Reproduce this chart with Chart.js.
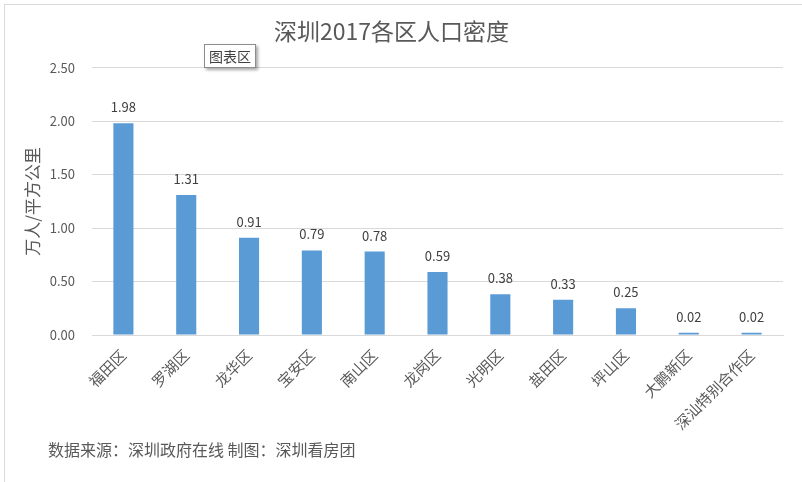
<!DOCTYPE html>
<html>
<head>
<meta charset="utf-8">
<script src="https://cdn.jsdelivr.net/npm/chart.js@4/dist/chart.umd.min.js"></script>
<style>
  html,body{margin:0;padding:0;background:#fff;}
  #wrap{position:relative;width:802px;height:482px;overflow:hidden;}
  #frame{position:absolute;left:4px;top:4px;right:0;bottom:0;border-left:1px solid #d9d9d9;border-top:1px solid #d9d9d9;}
  #tip{position:absolute;left:204px;top:44px;padding:1px 4px;border:1px solid #8c8c8c;background:#fff;
       font:14px "Noto Sans CJK SC",sans-serif;color:#404040;box-shadow:2px 2px 3px rgba(0,0,0,.35);}
  canvas{position:absolute;left:0;top:0;}
</style>
</head>
<body>
<div id="wrap">
  <div id="frame"></div>
  <canvas id="c" width="802" height="482"></canvas>
  <div id="tip">图表区</div>
</div>
<script>
// data
const districts = ['福田区','罗湖区','龙华区','宝安区','南山区','龙岗区','光明区','盐田区','坪山区','大鹏新区','深汕特别合作区'];
const density = [1.98, 1.31, 0.91, 0.79, 0.78, 0.59, 0.38, 0.33, 0.25, 0.02, 0.02];
const yTicks = [0, 0.5, 1, 1.5, 2, 2.5];

const font = '"Noto Sans CJK SC", "Noto Sans", sans-serif';
const textGray = '#595959';

// value labels above each bar
const valueLabels = {
  id:'valueLabels',
  afterDatasetsDraw(chart){
    const ctx = chart.ctx;
    const meta = chart.getDatasetMeta(0);
    ctx.save();
    ctx.font = '13px ' + font;
    ctx.fillStyle = '#404040';
    ctx.textAlign = 'center';
    ctx.textBaseline = 'middle';
    meta.data.forEach((bar,i)=>{
      ctx.fillText(density[i].toFixed(2), bar.x, bar.y - 16);
    });
    ctx.restore();
  }
};

// footer source line
const footer = {
  id:'footer',
  afterDraw(chart){
    const ctx = chart.ctx;
    ctx.save();
    ctx.font = '16px ' + font;
    ctx.fillStyle = textGray;
    ctx.textBaseline = 'middle';
    ctx.fillText('数据来源：深圳政府在线 制图：深圳看房团', 48, 450);
    ctx.restore();
  }
};

new Chart(document.getElementById('c').getContext('2d'), {
  type:'bar',
  data:{
    labels:districts,
    datasets:[{data:density, backgroundColor:'#5B9BD5', categoryPercentage:1, barPercentage:0.32}]
  },
  options:{
    responsive:false,
    animation:false,
    layout:{padding:{left:0,right:19,top:0,bottom:0}},
    plugins:{
      legend:{display:false},
      tooltip:{enabled:false},
      title:{display:true, text:'深圳2017各区人口密度', color:textGray,
             font:{family:font,size:23,weight:'normal'}, padding:{top:17,bottom:23}}
    },
    scales:{
      x:{
        grid:{display:false},
        border:{color:'#d9d9d9'},
        ticks:{color:textGray, font:{family:font,size:15}, minRotation:45, maxRotation:45, autoSkip:false},
        afterFit(s){ s.height = 147; }
      },
      y:{
        min:0, max:2.5,
        afterBuildTicks(s){ s.ticks = yTicks.map(v=>({value:v})); },
        grid:{color:'#d9d9d9', drawTicks:false},
        border:{display:false},
        ticks:{color:textGray, font:{family:font,size:13}, padding:17, callback:v=>v.toFixed(2)},
        title:{display:true, text:'万人/平方公里', color:textGray, font:{family:font,size:17}, padding:{top:22,bottom:0}},
        afterFit(s){ s.width = 92; }
      }
    }
  },
  plugins:[valueLabels, footer]
});
</script>
</body>
</html>
